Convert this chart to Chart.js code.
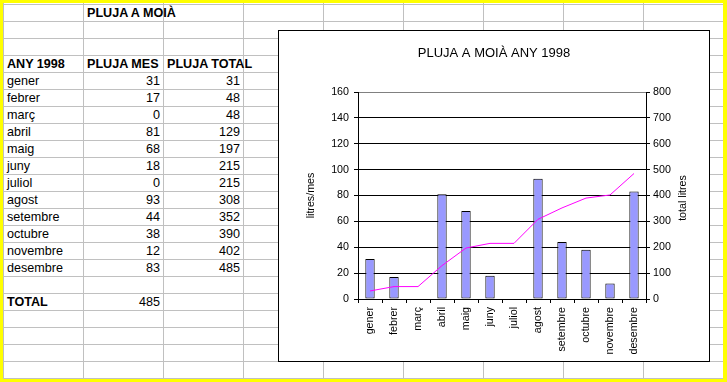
<!DOCTYPE html>
<html><head><meta charset="utf-8">
<script src="https://cdn.jsdelivr.net/npm/chart.js@4.4.0/dist/chart.umd.min.js"></script>
<style>
html,body{margin:0;padding:0;background:#FFFF00;}
#page{position:relative;width:727px;height:382px;background:#FFFF00;overflow:hidden;font-family:'Liberation Sans',Arial,sans-serif;color:#000;}
#sheet{position:absolute;left:3px;top:3px;width:720px;height:376px;background:#fff;}
.hl{position:absolute;left:3px;width:720px;height:1px;background:#c0c0c0;}
.vl{position:absolute;top:3px;height:376px;width:1px;background:#c0c0c0;}
.cell{position:absolute;height:16px;line-height:16px;font-size:12.6px;white-space:nowrap;}
.b{font-weight:bold;}
.r{text-align:right;}
#box{position:absolute;left:278px;top:30px;width:432px;height:332px;box-sizing:border-box;border:1px solid #000;background:#fff;}
#c{position:absolute;left:0;top:0;}
</style></head>
<body><div id="page"><div id="sheet"></div><div id="box"><canvas id="c" width="430" height="330"></canvas></div></div>
<script>
const sheetTitle = 'PLUJA A MOIÀ';
const chartTitle = 'PLUJA A MOIÀ ANY 1998';
const headers = ['ANY 1998', 'PLUJA MES', 'PLUJA TOTAL'];
const months = ['gener','febrer','març','abril','maig','juny','juliol','agost','setembre','octubre','novembre','desembre'];
const monthlyRain = [31,17,0,81,68,18,0,93,44,38,12,83];
const totalRain = [31,48,48,129,197,215,215,308,352,390,402,485];
const totalLabel = 'TOTAL';
const totalValue = 485;
const leftAxisTitle = 'litres/mes';
const rightAxisTitle = 'total litres';

const page = document.getElementById('page');
// grid lines
for (let k = 0; k <= 22; k++) {
  const d = document.createElement('div'); d.className = 'hl'; d.style.top = (4 + 17 * k) + 'px'; page.insertBefore(d, document.getElementById('box'));
}
for (let k = 0; k <= 8; k++) {
  const d = document.createElement('div'); d.className = 'vl'; d.style.left = (3 + 80 * k) + 'px'; page.insertBefore(d, document.getElementById('box'));
}
function cell(text, row, col, cls) {
  const d = document.createElement('div');
  d.className = 'cell ' + (cls || '');
  d.textContent = text;
  d.style.top = (4 + 17 * (row - 1) + 1) + 'px';
  const x0 = 3 + 80 * col;
  if ((cls || '').includes('r')) { d.style.left = (x0 + 1) + 'px'; d.style.width = (80 - 4) + 'px'; }
  else { d.style.left = (x0 + 4) + 'px'; }
  page.insertBefore(d, document.getElementById('box'));
}
cell(sheetTitle, 1, 1, 'b');
cell(headers[0], 4, 0, 'b'); cell(headers[1], 4, 1, 'b'); cell(headers[2], 4, 2, 'b');
months.forEach((m, i) => {
  cell(m, 5 + i, 0);
  cell(String(monthlyRain[i]), 5 + i, 1, 'r');
  cell(String(totalRain[i]), 5 + i, 2, 'r');
});
cell(totalLabel, 18, 0, 'b');
cell(String(totalValue), 18, 1, 'r');

const FONT = "'Liberation Sans', Arial, sans-serif";
Chart.defaults.font.family = FONT;
Chart.defaults.color = '#000';
const tickFont = {family: FONT, size: 10.7};

const rightTitlePlugin = {
  id: 'rightTitle',
  afterDraw(chart) {
    const ctx = chart.ctx;
    ctx.save();
    ctx.font = '10.7px ' + FONT;
    ctx.fillStyle = '#000';
    ctx.textAlign = 'center';
    ctx.textBaseline = 'middle';
    ctx.translate(404, 167);
    ctx.rotate(-Math.PI / 2);
    ctx.fillText(rightAxisTitle, 0, 0);
    ctx.restore();
  }
};

new Chart(document.getElementById('c'), {
  data: {
    labels: months,
    datasets: [
      {type: 'line', data: totalRain, yAxisID: 'y1', borderColor: '#FF00FF', borderWidth: 1, pointRadius: 0, tension: 0, fill: false, order: 0},
      {type: 'bar', data: monthlyRain, yAxisID: 'y', backgroundColor: '#9999FF', borderColor: '#000', borderWidth: 1, borderSkipped: false, barPercentage: 0.39, categoryPercentage: 1, order: 1}
    ]
  },
  options: {
    responsive: false, animation: false, devicePixelRatio: 1,
    layout: {padding: 0},
    plugins: {
      legend: {display: false}, tooltip: {enabled: false},
      title: {display: true, text: chartTitle, color: '#000', font: {family: FONT, size: 13, weight: 'normal'}, padding: {top: 15, bottom: 30.4}}
    },
    scales: {
      x: {
        offset: true,
        grid: {offset: true, drawOnChartArea: false, drawTicks: true, tickLength: 4, color: '#000'},
        border: {color: '#000', width: 1},
        ticks: {minRotation: 90, maxRotation: 90, autoSkip: false, font: tickFont, color: '#000', padding: 4},
        afterFit: s => { s.height = 62; }
      },
      y: {
        position: 'left', min: 0, max: 160,
        ticks: {stepSize: 20, font: tickFont, color: '#000', padding: 5},
        grid: {color: c => (c.tick && c.tick.value === 160) ? '#808080' : '#000', tickColor: '#000', tickLength: 4},
        border: {color: '#000', width: 1},
        title: {display: true, text: leftAxisTitle, font: tickFont, color: '#000', padding: {top: 25.6, bottom: 0}},
        afterFit: s => { s.width = 79; }
      },
      y1: {
        position: 'right', min: 0, max: 800,
        ticks: {stepSize: 100, font: tickFont, color: '#000', padding: 3},
        grid: {drawOnChartArea: false, tickColor: '#000', tickLength: 4},
        border: {color: '#000', width: 1},
        afterFit: s => { s.width = 63; }
      }
    }
  },
  plugins: [rightTitlePlugin]
});
</script></body></html>
